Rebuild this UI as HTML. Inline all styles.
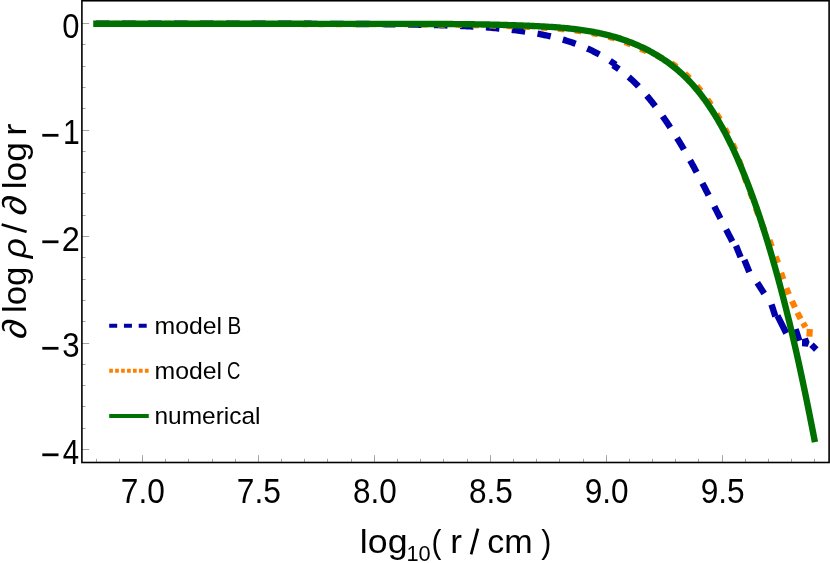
<!DOCTYPE html>
<html><head><meta charset="utf-8"><title>plot</title>
<style>
html,body{margin:0;padding:0;background:#fff;}
body{width:830px;height:563px;overflow:hidden;font-family:"Liberation Sans",sans-serif;}
svg{display:block;}
text{font-family:"Liberation Sans",sans-serif;fill:#000;}
</style></head><body>
<svg width="830" height="563" viewBox="0 0 830 563">
<rect width="830" height="563" fill="#fff"/>
<g stroke="#a4a4a4" stroke-width="1" fill="none">
<line x1="81.90" x2="89.20" y1="23.50" y2="23.50"/><line x1="81.90" x2="85.60" y1="44.50" y2="44.50"/><line x1="81.90" x2="85.60" y1="66.50" y2="66.50"/><line x1="81.90" x2="85.60" y1="87.50" y2="87.50"/><line x1="81.90" x2="85.60" y1="108.50" y2="108.50"/><line x1="81.90" x2="89.20" y1="130.50" y2="130.50"/><line x1="81.90" x2="85.60" y1="151.50" y2="151.50"/><line x1="81.90" x2="85.60" y1="172.50" y2="172.50"/><line x1="81.90" x2="85.60" y1="193.50" y2="193.50"/><line x1="81.90" x2="85.60" y1="215.50" y2="215.50"/><line x1="81.90" x2="89.20" y1="236.50" y2="236.50"/><line x1="81.90" x2="85.60" y1="257.50" y2="257.50"/><line x1="81.90" x2="85.60" y1="279.50" y2="279.50"/><line x1="81.90" x2="85.60" y1="300.50" y2="300.50"/><line x1="81.90" x2="85.60" y1="321.50" y2="321.50"/><line x1="81.90" x2="89.20" y1="343.50" y2="343.50"/><line x1="81.90" x2="85.60" y1="364.50" y2="364.50"/><line x1="81.90" x2="85.60" y1="385.50" y2="385.50"/><line x1="81.90" x2="85.60" y1="406.50" y2="406.50"/><line x1="81.90" x2="85.60" y1="428.50" y2="428.50"/><line x1="81.90" x2="89.20" y1="449.50" y2="449.50"/><line x1="96.50" x2="96.50" y1="462.50" y2="458.80"/><line x1="119.50" x2="119.50" y1="462.50" y2="458.80"/><line x1="142.50" x2="142.50" y1="462.50" y2="455.20"/><line x1="165.50" x2="165.50" y1="462.50" y2="458.80"/><line x1="188.50" x2="188.50" y1="462.50" y2="458.80"/><line x1="212.50" x2="212.50" y1="462.50" y2="458.80"/><line x1="235.50" x2="235.50" y1="462.50" y2="458.80"/><line x1="258.50" x2="258.50" y1="462.50" y2="455.20"/><line x1="281.50" x2="281.50" y1="462.50" y2="458.80"/><line x1="304.50" x2="304.50" y1="462.50" y2="458.80"/><line x1="327.50" x2="327.50" y1="462.50" y2="458.80"/><line x1="351.50" x2="351.50" y1="462.50" y2="458.80"/><line x1="374.50" x2="374.50" y1="462.50" y2="455.20"/><line x1="397.50" x2="397.50" y1="462.50" y2="458.80"/><line x1="420.50" x2="420.50" y1="462.50" y2="458.80"/><line x1="443.50" x2="443.50" y1="462.50" y2="458.80"/><line x1="467.50" x2="467.50" y1="462.50" y2="458.80"/><line x1="490.50" x2="490.50" y1="462.50" y2="455.20"/><line x1="513.50" x2="513.50" y1="462.50" y2="458.80"/><line x1="536.50" x2="536.50" y1="462.50" y2="458.80"/><line x1="559.50" x2="559.50" y1="462.50" y2="458.80"/><line x1="583.50" x2="583.50" y1="462.50" y2="458.80"/><line x1="606.50" x2="606.50" y1="462.50" y2="455.20"/><line x1="629.50" x2="629.50" y1="462.50" y2="458.80"/><line x1="652.50" x2="652.50" y1="462.50" y2="458.80"/><line x1="675.50" x2="675.50" y1="462.50" y2="458.80"/><line x1="698.50" x2="698.50" y1="462.50" y2="458.80"/><line x1="722.50" x2="722.50" y1="462.50" y2="455.20"/><line x1="745.50" x2="745.50" y1="462.50" y2="458.80"/><line x1="768.50" x2="768.50" y1="462.50" y2="458.80"/><line x1="791.50" x2="791.50" y1="462.50" y2="458.80"/><line x1="814.50" x2="814.50" y1="462.50" y2="458.80"/>
</g>
<g fill="none" stroke-linejoin="round">
<path d="M93.22,23.77 L94.99,23.77 L96.76,23.78 L98.53,23.78 L100.30,23.78 L102.07,23.79 L103.84,23.79 L105.61,23.79 L107.38,23.79 L109.14,23.80 L110.91,23.80 L112.68,23.80 L114.45,23.80 L116.22,23.80 L117.99,23.81 L119.76,23.81 L121.53,23.81 L123.30,23.81 L125.07,23.81 L126.84,23.81 L128.61,23.81 L130.38,23.82 L132.15,23.82 L133.92,23.82 L135.69,23.82 L137.47,23.82 L139.24,23.82 L141.01,23.82 L142.78,23.82 L144.55,23.82 L146.32,23.82 L148.09,23.82 L149.86,23.82 L151.63,23.82 L153.40,23.82 L155.17,23.82 L156.94,23.82 L158.72,23.82 L160.49,23.82 L162.26,23.82 L164.03,23.82 L165.80,23.82 L167.57,23.82 L169.34,23.82 L171.11,23.82 L172.89,23.82 L174.66,23.81 L176.43,23.81 L178.20,23.81 L179.97,23.81 L181.74,23.81 L183.51,23.81 L185.29,23.81 L187.06,23.81 L188.83,23.81 L190.60,23.81 L192.37,23.81 L194.14,23.80 L195.92,23.80 L197.69,23.80 L199.46,23.80 L201.23,23.80 L203.00,23.80 L204.77,23.80 L206.55,23.80 L208.32,23.80 L210.09,23.79 L211.86,23.79 L213.63,23.79 L215.41,23.79 L217.18,23.79 L218.95,23.79 L220.72,23.79 L222.49,23.79 L224.26,23.79 L226.04,23.78 L227.81,23.78 L229.58,23.78 L231.35,23.78 L233.12,23.78 L234.90,23.78 L236.67,23.78 L238.44,23.78 L240.21,23.78 L241.98,23.78 L243.76,23.78 L245.53,23.78 L247.30,23.78 L249.07,23.78 L250.84,23.78 L252.61,23.78 L254.39,23.78 L256.16,23.78 L257.93,23.78 L259.70,23.78 L261.47,23.78 L263.24,23.78 L265.02,23.78 L266.79,23.78 L268.56,23.78 L270.33,23.78 L272.10,23.78 L273.87,23.78 L275.65,23.78 L277.42,23.78 L279.19,23.78 L280.96,23.78 L282.73,23.79 L284.50,23.79 L286.27,23.79 L288.04,23.79 L289.82,23.79 L291.59,23.79 L293.36,23.80 L295.13,23.80 L296.90,23.80 L298.67,23.80 L300.44,23.81 L302.21,23.81 L303.98,23.81 L305.75,23.81 L307.53,23.82 L309.30,23.82 L311.07,23.82 L312.84,23.83 L314.61,23.83 L316.38,23.84 L318.15,23.84 L319.92,23.84 L321.69,23.85 L323.46,23.85 L325.23,23.86 L327.00,23.86 L328.77,23.87 L330.54,23.87 L332.31,23.88 L334.08,23.88 L335.85,23.89 L337.62,23.90 L339.39,23.90 L341.16,23.91 L342.93,23.91 L344.70,23.92 L346.47,23.93 L348.24,23.94 L350.01,23.94 L351.77,23.95 L353.54,23.96 L355.31,23.97 L357.08,23.98 L358.85,23.99 L360.62,23.99 L362.39,24.01 L364.16,24.02 L365.93,24.03 L367.70,24.04 L369.47,24.05 L371.24,24.06 L373.00,24.08 L374.77,24.09 L376.54,24.10 L378.31,24.12 L380.08,24.14 L381.85,24.15 L383.62,24.17 L385.39,24.19 L387.16,24.20 L388.93,24.22 L390.70,24.24 L392.47,24.27 L394.24,24.29 L396.01,24.31 L397.78,24.33 L399.55,24.36 L401.32,24.38 L403.09,24.41 L404.86,24.44 L406.63,24.46 L408.40,24.49 L410.17,24.52 L411.95,24.56 L413.72,24.59 L415.49,24.62 L417.26,24.66 L419.03,24.69 L420.80,24.73 L422.58,24.77 L424.35,24.81 L426.12,24.85 L427.89,24.89 L429.67,24.93 L431.44,24.98 L433.21,25.02 L434.99,25.07 L436.76,25.12 L438.54,25.17 L440.31,25.22 L442.09,25.27 L443.86,25.33 L445.64,25.38 L447.41,25.44 L449.19,25.50 L450.96,25.56 L452.74,25.63 L454.51,25.69 L456.29,25.76 L458.06,25.83 L459.84,25.91 L461.62,25.98 L463.39,26.06 L465.17,26.14 L466.94,26.23 L468.72,26.32 L470.49,26.41 L472.26,26.51 L474.04,26.61 L475.81,26.71 L477.58,26.82 L479.36,26.93 L481.13,27.04 L482.90,27.16 L484.67,27.29 L486.44,27.41 L488.21,27.55 L489.98,27.68 L491.75,27.83 L493.52,27.97 L495.28,28.13 L497.05,28.28 L498.82,28.45 L500.58,28.61 L502.35,28.79 L504.11,28.97 L505.87,29.15 L507.63,29.34 L509.39,29.54 L511.15,29.74 L512.91,29.95 L514.67,30.17 L516.42,30.39 L518.18,30.62 L519.93,30.86 L521.69,31.10 L523.44,31.35 L525.19,31.61 L526.94,31.87 L528.68,32.14 L530.43,32.43 L532.17,32.72 L533.91,33.01 L535.65,33.32 L537.38,33.64 L539.12,33.97 L540.85,34.30 L542.58,34.65 L544.30,35.01 L546.03,35.37 L547.75,35.75 L549.46,36.14 L551.17,36.54 L552.88,36.95 L554.59,37.38 L556.29,37.81 L557.99,38.26 L559.69,38.72 L561.38,39.19 L563.07,39.68 L564.75,40.18 L566.43,40.69 L568.10,41.22 L569.77,41.76 L571.44,42.32 L573.10,42.89 L574.75,43.48 L576.40,44.08 L578.05,44.69 L579.69,45.32 L581.32,45.97 L582.95,46.64 L584.57,47.32 L586.19,48.01 L587.80,48.73 L589.41,49.46 L591.01,50.21 L592.60,50.97 L594.19,51.76 L595.77,52.56 L597.34,53.38 L598.91,54.22 L600.47,55.08 L602.03,55.95 L603.57,56.85 L605.11,57.77 L606.64,58.70 L608.17,59.66 L609.69,60.64 L611.20,61.64 L612.70,62.65 L614.19,63.70 L615.68,64.76" stroke="#0000aa" stroke-width="6.4" stroke-dasharray="13.5 12.5" stroke-dashoffset="-2.8"/>
<path d="M613.03,65.29 L613.95,65.87 L614.87,66.46 L615.78,67.05 L616.68,67.66 L617.58,68.27 L618.46,68.89 L619.35,69.51 L620.22,70.15 L621.09,70.79 L621.95,71.44 L622.80,72.10 L623.65,72.76 L624.49,73.43 L625.33,74.11 L626.16,74.80 L626.98,75.49 L627.80,76.19 L628.61,76.89 L629.42,77.60 L630.22,78.32 L631.02,79.04 L631.81,79.77 L632.59,80.51 L633.37,81.25 L634.14,81.99 L634.91,82.74 L635.67,83.50 L636.43,84.26 L637.19,85.03 L637.94,85.80 L638.68,86.58 L639.42,87.36 L640.16,88.15 L640.89,88.94 L641.61,89.74 L642.34,90.54 L643.05,91.34 L643.77,92.15 L644.48,92.96 L645.19,93.77 L645.89,94.59 L646.59,95.41 L647.28,96.24 L647.98,97.07 L648.66,97.90 L649.35,98.73 L650.03,99.57 L650.71,100.41 L651.39,101.26 L652.06,102.10 L652.73,102.95 L653.40,103.80 L654.06,104.65 L654.72,105.51 L655.38,106.36 L656.04,107.22 L656.69,108.09 L657.34,108.95 L657.99,109.82 L658.63,110.69 L659.27,111.56 L659.91,112.43 L660.55,113.31 L661.18,114.19 L661.81,115.07 L662.44,115.95 L663.06,116.83 L663.69,117.72 L664.31,118.60 L664.92,119.49 L665.54,120.38 L666.15,121.28 L666.76,122.17 L667.37,123.07 L667.98,123.97 L668.58,124.87 L669.18,125.77 L669.78,126.67 L670.37,127.58 L670.96,128.48 L671.56,129.39 L672.14,130.30 L672.73,131.21 L673.31,132.12 L673.90,133.04 L674.48,133.95 L675.05,134.87 L675.63,135.79 L676.20,136.70 L676.77,137.62 L677.34,138.54 L677.91,139.47 L678.47,140.39 L679.04,141.31 L679.60,142.24 L680.15,143.17 L680.71,144.09 L681.27,145.02 L681.82,145.95 L682.37,146.88 L682.92,147.81 L683.47,148.74 L684.01,149.68 L684.55,150.61 L685.10,151.55 L685.64,152.48 L686.18,153.42 L686.71,154.35 L687.25,155.29 L687.78,156.23 L688.31,157.17 L688.84,158.11 L689.37,159.05 L689.90,159.99 L690.43,160.94 L690.95,161.88 L691.47,162.82 L692.00,163.77 L692.52,164.71 L693.04,165.66 L693.55,166.61 L694.07,167.55 L694.59,168.50 L695.10,169.45 L695.61,170.40 L696.12,171.35 L696.63,172.30 L697.14,173.25 L697.65,174.20 L698.16,175.15 L698.67,176.11 L699.17,177.06 L699.68,178.01 L700.18,178.97 L700.68,179.92 L701.19,180.88 L701.69,181.83 L702.19,182.79 L702.69,183.74 L703.19,184.70 L703.68,185.66 L704.18,186.61 L704.68,187.57 L705.17,188.53 L705.67,189.49 L706.16,190.45 L706.66,191.41 L707.15,192.36 L707.65,193.32 L708.14,194.28 L708.63,195.24 L709.12,196.21 L709.62,197.17 L710.11,198.13 L710.60,199.09 L711.09,200.05 L711.58,201.01 L712.07,201.97 L712.56,202.93 L713.05,203.90 L713.54,204.86 L714.03,205.82 L714.52,206.78 L715.01,207.75 L715.50,208.71 L715.99,209.67 L716.48,210.63 L716.97,211.60 L717.46,212.56 L717.95,213.52 L718.44,214.49 L718.93,215.45 L719.42,216.41 L719.91,217.37 L720.40,218.34 L720.89,219.30 L721.38,220.26 L721.87,221.22 L722.36,222.19 L722.86,223.15 L723.35,224.11 L723.84,225.07 L724.34,226.04 L724.83,227.00 L725.33,227.96 L725.82,228.92 L726.32,229.88 L726.81,230.84 L727.31,231.80 L727.81,232.76 L728.31,233.73 L728.81,234.69 L729.31,235.64 L729.81,236.60 L730.31,237.56 L730.81,238.52 L731.32,239.48 L731.82,240.44 L732.33,241.40" stroke="#0000aa" stroke-width="6.4" stroke-dasharray="13.5 12.5" stroke-dashoffset="6.4"/>
<g stroke="#0000aa" stroke-width="6.4"><line x1="736.0" y1="245.7" x2="740.6" y2="257.1"/><line x1="744.4" y1="260.0" x2="749.3" y2="272.0"/><line x1="757.3" y1="282.8" x2="764.2" y2="293.5"/><line x1="771.5" y1="304.6" x2="775.4" y2="316.4"/><line x1="777.4" y1="315.6" x2="786.3" y2="333.2"/><line x1="795.6" y1="329.1" x2="799.3" y2="340.8"/><line x1="811.5" y1="344.8" x2="816.3" y2="349.6"/><polygon points="802,339.2 807.8,337.6 809.6,341.9 807.8,346.7 802,346.2" fill="#0000aa" stroke="none"/></g>
<path d="M93.24,23.82 L94.90,23.82 L96.56,23.82 L98.22,23.82 L99.88,23.82 L101.54,23.82 L103.20,23.82 L104.86,23.82 L106.52,23.82 L108.19,23.83 L109.85,23.83 L111.51,23.83 L113.17,23.83 L114.83,23.83 L116.49,23.83 L118.15,23.83 L119.81,23.83 L121.47,23.83 L123.14,23.83 L124.80,23.83 L126.46,23.84 L128.12,23.84 L129.78,23.84 L131.45,23.84 L133.11,23.84 L134.77,23.84 L136.43,23.84 L138.09,23.84 L139.76,23.84 L141.42,23.84 L143.08,23.85 L144.74,23.85 L146.40,23.85 L148.07,23.85 L149.73,23.85 L151.39,23.85 L153.05,23.85 L154.72,23.85 L156.38,23.86 L158.04,23.86 L159.71,23.86 L161.37,23.86 L163.03,23.86 L164.69,23.86 L166.36,23.86 L168.02,23.87 L169.68,23.87 L171.35,23.87 L173.01,23.87 L174.67,23.87 L176.34,23.87 L178.00,23.87 L179.66,23.88 L181.33,23.88 L182.99,23.88 L184.65,23.88 L186.32,23.88 L187.98,23.88 L189.64,23.88 L191.31,23.89 L192.97,23.89 L194.63,23.89 L196.30,23.89 L197.96,23.89 L199.63,23.89 L201.29,23.90 L202.95,23.90 L204.62,23.90 L206.28,23.90 L207.95,23.90 L209.61,23.90 L211.27,23.91 L212.94,23.91 L214.60,23.91 L216.27,23.91 L217.93,23.91 L219.59,23.92 L221.26,23.92 L222.92,23.92 L224.59,23.92 L226.25,23.92 L227.91,23.93 L229.58,23.93 L231.24,23.93 L232.91,23.93 L234.57,23.93 L236.23,23.94 L237.90,23.94 L239.56,23.94 L241.23,23.94 L242.89,23.94 L244.56,23.95 L246.22,23.95 L247.88,23.95 L249.55,23.95 L251.21,23.95 L252.88,23.96 L254.54,23.96 L256.21,23.96 L257.87,23.96 L259.53,23.96 L261.20,23.97 L262.86,23.97 L264.53,23.97 L266.19,23.97 L267.85,23.98 L269.52,23.98 L271.18,23.98 L272.85,23.98 L274.51,23.99 L276.18,23.99 L277.84,23.99 L279.50,23.99 L281.17,23.99 L282.83,24.00 L284.50,24.00 L286.16,24.00 L287.82,24.00 L289.49,24.01 L291.15,24.01 L292.82,24.01 L294.48,24.01 L296.14,24.02 L297.81,24.02 L299.47,24.02 L301.14,24.02 L302.80,24.03 L304.46,24.03 L306.13,24.03 L307.79,24.03 L309.45,24.04 L311.12,24.04 L312.78,24.04 L314.45,24.05 L316.11,24.05 L317.77,24.05 L319.44,24.05 L321.10,24.06 L322.76,24.06 L324.43,24.06 L326.09,24.06 L327.75,24.07 L329.42,24.07 L331.08,24.07 L332.74,24.07 L334.41,24.08 L336.07,24.08 L337.73,24.08 L339.40,24.09 L341.06,24.09 L342.72,24.09 L344.39,24.09 L346.05,24.10 L347.71,24.10 L349.37,24.10 L351.04,24.11 L352.70,24.11 L354.36,24.11 L356.02,24.12 L357.69,24.12 L359.35,24.12 L361.01,24.12 L362.67,24.13 L364.34,24.13 L366.00,24.13 L367.66,24.14 L369.32,24.14 L370.99,24.14 L372.65,24.15 L374.31,24.15 L375.97,24.15 L377.63,24.15 L379.29,24.16 L380.96,24.16 L382.62,24.16 L384.28,24.17 L385.94,24.17 L387.60,24.17 L389.26,24.18 L390.92,24.18 L392.59,24.18 L394.25,24.19 L395.91,24.19 L397.57,24.19 L399.23,24.20 L400.89,24.20 L402.55,24.22 L404.21,24.23 L405.87,24.24 L407.53,24.25 L409.19,24.26 L410.85,24.28 L412.51,24.29 L414.17,24.30 L415.84,24.31 L417.50,24.33 L419.16,24.34 L420.82,24.35 L422.48,24.37 L424.14,24.38 L425.80,24.40 L427.46,24.41 L429.12,24.43 L430.78,24.44 L432.44,24.46 L434.10,24.48 L435.76,24.49 L437.42,24.51 L439.08,24.53 L440.74,24.55 L442.40,24.57 L444.06,24.59 L445.72,24.61 L447.38,24.63 L449.04,24.65 L450.70,24.67 L452.36,24.69 L454.02,24.72 L455.68,24.74 L457.34,24.77 L459.00,24.79 L460.66,24.82 L462.32,24.85 L463.99,24.88 L465.65,24.91 L467.31,24.94 L468.97,24.97 L470.63,25.00 L472.29,25.03 L473.95,25.07 L475.62,25.10 L477.28,25.14 L478.94,25.18 L480.60,25.21 L482.27,25.25 L483.93,25.29 L485.59,25.33 L487.25,25.38 L488.92,25.42 L490.58,25.47 L492.24,25.51 L493.91,25.56 L495.57,25.61 L497.24,25.66 L498.90,25.71 L500.56,25.76 L502.23,25.82 L503.89,25.87 L505.56,25.93 L507.22,25.99 L508.89,26.05 L510.56,26.11 L512.22,26.17 L513.89,26.24 L515.55,26.30 L517.22,26.37 L518.89,26.44 L520.56,26.51 L522.22,26.58 L523.89,26.66 L525.56,26.73 L527.23,26.81 L528.90,26.89 L530.56,26.97 L532.23,27.05 L533.90,27.13 L535.57,27.22 L537.24,27.31 L538.91,27.40 L540.58,27.49 L542.25,27.59 L543.91,27.69 L545.58,27.79 L547.25,27.90 L548.91,28.01 L550.58,28.12 L552.25,28.25 L553.91,28.37 L555.57,28.50 L557.23,28.64 L558.89,28.78 L560.55,28.92 L562.21,29.08 L563.87,29.23 L565.52,29.40 L567.18,29.57 L568.83,29.75 L570.48,29.93 L572.13,30.12 L573.78,30.32 L575.43,30.52 L577.07,30.74 L578.71,30.96 L580.35,31.19 L581.99,31.42 L583.62,31.67 L585.26,31.93 L586.89,32.19 L588.52,32.47 L590.14,32.75 L591.77,33.04 L593.39,33.35 L595.00,33.66 L596.62,33.99 L598.23,34.32 L599.84,34.67 L601.45,35.03 L603.05,35.40 L604.65,35.79 L606.24,36.18 L607.84,36.59 L609.43,37.01 L611.01,37.44 L612.59,37.89 L614.17,38.34 L615.75,38.82 L617.32,39.30 L618.88,39.80 L620.44,40.33 L621.99,40.89 L623.53,41.46 L625.07,42.05 L626.60,42.65 L628.13,43.27 L629.65,43.89 L631.17,44.54 L632.68,45.19 L634.18,45.86 L635.68,46.54 L637.17,47.24 L638.65,47.95 L640.13,48.67 L641.63,49.35 L643.18,49.91 L644.73,50.49 L646.28,51.09 L647.81,51.70 L649.35,52.33 L650.88,52.98 L652.40,53.63 L653.93,54.29 L655.45,54.97 L656.97,55.67 L658.47,56.38 L659.98,57.10 L661.49,57.82 L663.00,58.56 L664.50,59.31 L665.99,60.08 L667.47,60.86 L668.94,61.68 L670.36,62.58 L671.76,63.49 L673.16,64.42 L674.55,65.37 L675.92,66.33 L677.29,67.31 L678.64,68.30 L679.99,69.32 L681.32,70.35 L682.58,71.45 L683.83,72.58 L685.07,73.72 L686.29,74.88 L687.50,76.05 L688.69,77.23 L689.88,78.42 L691.05,79.63 L692.21,80.85 L693.36,82.08 L694.50,83.32 L695.62,84.58 L696.73,85.84 L697.83,87.12 L698.92,88.40 L700.00,89.70 L701.07,91.01 L702.13,92.33 L703.16,93.66 L704.19,95.00 L705.20,96.35 L706.21,97.71 L707.20,99.08 L708.16,100.48 L709.11,101.87 L710.05,103.28 L710.98,104.69 L711.90,106.11 L712.81,107.54 L713.71,108.97 L714.60,110.41 L715.48,111.85 L716.35,113.30 L717.21,114.75 L718.07,116.21 L718.91,117.67 L719.74,119.14 L720.57,120.61 L721.38,122.08 L722.19,123.56 L723.00,125.04 L723.80,126.52 L724.59,128.00 L725.38,129.49 L726.15,130.98 L726.92,132.47 L727.68,133.96 L728.44,135.46 L729.18,136.96 L729.92,138.46 L730.65,139.97 L731.38,141.48 L732.10,142.99 L732.81,144.51 L733.51,146.02 L734.21,147.54 L734.90,149.06 L735.52,150.62 L736.11,152.18 L736.70,153.75 L737.28,155.32 L737.86,156.88 L738.43,158.45 L738.99,160.03 L739.55,161.60 L740.11,163.17 L740.65,164.75 L741.19,166.33 L741.72,167.91 L742.24,169.50 L742.76,171.08 L743.27,172.67 L743.78,174.25 L744.28,175.84 L744.78,177.43 L745.28,179.02 L745.80,180.60 L746.40,182.15 L747.00,183.70 L747.59,185.25 L748.18,186.80 L748.77,188.35 L749.36,189.90 L749.94,191.46 L750.51,193.02 L751.09,194.57 L751.66,196.13 L752.22,197.69 L752.79,199.25 L753.35,200.82 L753.90,202.38 L754.45,203.95 L755.00,205.51 L755.55,207.08 L756.09,208.65 L756.63,210.22 L757.17,211.79 L757.70,213.36 L758.24,214.94 L758.76,216.51 L759.29,218.09 L759.81,219.66 L760.43,221.21 L761.09,222.74 L761.76,224.27 L762.42,225.80 L763.08,227.33 L763.73,228.87 L764.39,230.41 L765.05,231.94 L765.83,233.44 L766.61,234.94 L767.39,236.44" stroke="#ff8000" stroke-width="6.2" stroke-dasharray="6.5 10.60" stroke-dashoffset="-3.07"/>
<g stroke="#ff8000" stroke-width="6.2"><line x1="769.40" y1="240.12" x2="771.80" y2="246.48"/><line x1="775.66" y1="256.50" x2="777.94" y2="262.90"/><line x1="781.10" y1="272.78" x2="783.30" y2="279.22"/><line x1="786.34" y1="288.04" x2="788.86" y2="294.36"/><line x1="791.99" y1="300.93" x2="795.01" y2="307.47"/><line x1="797.39" y1="312.69" x2="800.61" y2="318.91"/><line x1="803.11" y1="323.01" x2="805.49" y2="327.19"/><line x1="809.4" y1="336.6" x2="809.8" y2="329.0"/></g>
<path d="M93.24,23.82 L94.90,23.81 L96.56,23.81 L98.22,23.81 L99.88,23.81 L101.54,23.81 L103.20,23.81 L104.86,23.81 L106.52,23.81 L108.19,23.81 L109.85,23.81 L111.51,23.81 L113.17,23.81 L114.83,23.80 L116.49,23.80 L118.15,23.80 L119.81,23.80 L121.47,23.80 L123.14,23.80 L124.80,23.80 L126.46,23.80 L128.12,23.80 L129.78,23.80 L131.45,23.80 L133.11,23.80 L134.77,23.80 L136.43,23.80 L138.09,23.80 L139.76,23.80 L141.42,23.79 L143.08,23.79 L144.74,23.79 L146.40,23.79 L148.07,23.79 L149.73,23.79 L151.39,23.79 L153.05,23.79 L154.72,23.79 L156.38,23.79 L158.04,23.79 L159.71,23.79 L161.37,23.79 L163.03,23.79 L164.69,23.79 L166.36,23.79 L168.02,23.79 L169.68,23.79 L171.35,23.79 L173.01,23.79 L174.67,23.79 L176.34,23.79 L178.00,23.79 L179.66,23.79 L181.33,23.79 L182.99,23.79 L184.65,23.79 L186.32,23.79 L187.98,23.79 L189.64,23.79 L191.31,23.79 L192.97,23.79 L194.63,23.79 L196.30,23.79 L197.96,23.79 L199.63,23.79 L201.29,23.79 L202.95,23.79 L204.62,23.79 L206.28,23.79 L207.95,23.79 L209.61,23.79 L211.27,23.79 L212.94,23.79 L214.60,23.79 L216.27,23.79 L217.93,23.79 L219.59,23.79 L221.26,23.79 L222.92,23.79 L224.59,23.79 L226.25,23.79 L227.91,23.79 L229.58,23.79 L231.24,23.79 L232.91,23.79 L234.57,23.79 L236.23,23.79 L237.90,23.79 L239.56,23.79 L241.23,23.79 L242.89,23.80 L244.56,23.80 L246.22,23.80 L247.88,23.80 L249.55,23.80 L251.21,23.80 L252.88,23.80 L254.54,23.80 L256.21,23.80 L257.87,23.80 L259.53,23.80 L261.20,23.80 L262.86,23.80 L264.53,23.80 L266.19,23.80 L267.85,23.80 L269.52,23.80 L271.18,23.81 L272.85,23.81 L274.51,23.81 L276.18,23.81 L277.84,23.81 L279.50,23.81 L281.17,23.81 L282.83,23.81 L284.50,23.81 L286.16,23.81 L287.82,23.81 L289.49,23.81 L291.15,23.81 L292.82,23.82 L294.48,23.82 L296.14,23.82 L297.81,23.82 L299.47,23.82 L301.14,23.82 L302.80,23.82 L304.46,23.82 L306.13,23.82 L307.79,23.82 L309.46,23.82 L311.12,23.83 L312.78,23.83 L314.45,23.83 L316.11,23.83 L317.77,23.83 L319.44,23.83 L321.10,23.83 L322.76,23.83 L324.43,23.83 L326.09,23.84 L327.75,23.84 L329.42,23.84 L331.08,23.84 L332.74,23.84 L334.41,23.84 L336.07,23.84 L337.73,23.84 L339.40,23.84 L341.06,23.85 L342.72,23.85 L344.39,23.85 L346.05,23.85 L347.71,23.85 L349.37,23.85 L351.04,23.85 L352.70,23.86 L354.36,23.86 L356.02,23.86 L357.69,23.86 L359.35,23.86 L361.01,23.86 L362.67,23.86 L364.34,23.86 L366.00,23.87 L367.66,23.87 L369.32,23.87 L370.99,23.87 L372.65,23.87 L374.31,23.87 L375.97,23.87 L377.63,23.88 L379.29,23.88 L380.96,23.88 L382.62,23.88 L384.28,23.88 L385.94,23.88 L387.60,23.89 L389.26,23.89 L390.93,23.89 L392.59,23.89 L394.25,23.89 L395.91,23.89 L397.57,23.90 L399.23,23.90 L400.89,23.90 L402.55,23.90 L404.21,23.90 L405.87,23.90 L407.53,23.91 L409.19,23.91 L410.85,23.91 L412.52,23.91 L414.18,23.91 L415.84,23.92 L417.50,23.92 L419.16,23.92 L420.82,23.93 L422.48,23.93 L424.14,23.93 L425.80,23.94 L427.46,23.94 L429.12,23.95 L430.78,23.95 L432.44,23.96 L434.10,23.97 L435.76,23.97 L437.42,23.98 L439.08,23.99 L440.74,24.00 L442.40,24.01 L444.06,24.02 L445.72,24.03 L447.38,24.04 L449.04,24.05 L450.70,24.06 L452.36,24.07 L454.03,24.09 L455.69,24.10 L457.35,24.12 L459.01,24.13 L460.67,24.15 L462.33,24.16 L463.99,24.18 L465.66,24.20 L467.32,24.22 L468.98,24.24 L470.64,24.27 L472.30,24.29 L473.97,24.31 L475.63,24.34 L477.29,24.36 L478.95,24.39 L480.62,24.42 L482.28,24.45 L483.94,24.48 L485.61,24.51 L487.27,24.54 L488.93,24.57 L490.60,24.61 L492.26,24.65 L493.93,24.68 L495.59,24.72 L497.26,24.76 L498.92,24.80 L500.59,24.85 L502.25,24.89 L503.92,24.93 L505.59,24.98 L507.25,25.03 L508.92,25.08 L510.59,25.13 L512.25,25.18 L513.92,25.24 L515.59,25.29 L517.26,25.35 L518.92,25.41 L520.59,25.47 L522.26,25.53 L523.93,25.60 L525.60,25.66 L527.27,25.73 L528.94,25.80 L530.61,25.87 L532.28,25.94 L533.95,26.01 L535.62,26.09 L537.30,26.17 L538.97,26.25 L540.64,26.34 L542.31,26.43 L543.98,26.52 L545.65,26.61 L547.32,26.71 L548.99,26.82 L550.66,26.92 L552.33,27.04 L554.00,27.15 L555.66,27.28 L557.33,27.40 L559.00,27.54 L560.66,27.67 L562.32,27.82 L563.99,27.97 L565.65,28.13 L567.31,28.29 L568.97,28.46 L570.62,28.64 L572.28,28.82 L573.93,29.01 L575.59,29.21 L577.24,29.42 L578.89,29.64 L580.53,29.86 L582.18,30.10 L583.82,30.34 L585.47,30.59 L587.11,30.85 L588.74,31.12 L590.38,31.40 L592.01,31.69 L593.64,31.99 L595.27,32.30 L596.89,32.62 L598.52,32.96 L600.14,33.30 L601.75,33.65 L603.37,34.02 L604.98,34.40 L606.59,34.79 L608.19,35.19 L609.79,35.61 L611.39,36.04 L612.99,36.48 L614.58,36.93 L616.17,37.40 L617.76,37.88 L619.34,38.37 L620.92,38.88 L622.49,39.41 L624.06,39.94 L625.63,40.49 L627.19,41.06 L628.74,41.64 L630.30,42.23 L631.84,42.84 L633.38,43.47 L634.92,44.10 L636.45,44.75 L637.97,45.42 L639.49,46.10 L641.00,46.79 L642.51,47.50 L644.01,48.22 L645.50,48.96 L646.98,49.71 L648.46,50.47 L649.93,51.25 L651.39,52.05 L652.84,52.85 L654.29,53.67 L655.72,54.51 L657.15,55.36 L658.57,56.22 L659.98,57.10 L661.38,58.00 L662.77,58.90 L664.15,59.82 L665.52,60.76 L666.88,61.71 L668.23,62.67 L669.57,63.65 L670.89,64.64 L672.21,65.65 L673.52,66.67 L674.81,67.70 L676.09,68.75 L677.36,69.81 L678.62,70.89 L679.87,71.98 L681.10,73.09 L682.32,74.21 L683.53,75.34 L684.72,76.49 L685.91,77.65 L687.08,78.82 L688.24,80.01 L689.39,81.21 L690.52,82.42 L691.65,83.64 L692.76,84.87 L693.86,86.12 L694.95,87.37 L696.03,88.64 L697.10,89.92 L698.16,91.21 L699.20,92.50 L700.24,93.81 L701.26,95.13 L702.28,96.45 L703.28,97.79 L704.27,99.13 L705.26,100.48 L706.23,101.84 L707.20,103.21 L708.15,104.59 L709.09,105.97 L710.03,107.36 L710.95,108.76 L711.87,110.16 L712.77,111.57 L713.67,112.99 L714.56,114.41 L715.44,115.84 L716.31,117.27 L717.17,118.71 L718.02,120.15 L718.87,121.60 L719.70,123.05 L720.53,124.50 L721.35,125.96 L722.16,127.42 L722.96,128.89 L723.76,130.36 L724.55,131.83 L725.33,133.31 L726.10,134.78 L726.87,136.27 L727.62,137.75 L728.38,139.24 L729.12,140.73 L729.86,142.23 L730.59,143.72 L731.31,145.22 L732.03,146.73 L732.74,148.23 L733.45,149.74 L734.15,151.25 L734.84,152.76 L735.53,154.28 L736.21,155.79 L736.89,157.31 L737.56,158.84 L738.22,160.36 L738.88,161.89 L739.54,163.42 L740.19,164.95 L740.84,166.48 L741.48,168.01 L742.11,169.55 L742.74,171.09 L743.37,172.63 L743.99,174.17 L744.61,175.71 L745.23,177.25 L745.84,178.80 L746.45,180.35 L747.05,181.90 L747.65,183.44 L748.25,185.00 L748.84,186.55 L749.43,188.10 L750.01,189.66 L750.59,191.21 L751.17,192.77 L751.74,194.33 L752.31,195.89 L752.88,197.45 L753.44,199.02 L754.00,200.58 L754.56,202.15 L755.11,203.71 L755.66,205.28 L756.21,206.85 L756.76,208.42 L757.30,209.99 L757.83,211.56 L758.37,213.14 L758.90,214.71 L759.43,216.29 L759.95,217.86 L760.47,219.44 L760.99,221.02 L761.51,222.60 L762.02,224.18 L762.54,225.76 L763.04,227.34 L763.55,228.93 L764.05,230.51 L764.55,232.10 L765.05,233.68 L765.55,235.27 L766.04,236.86 L766.53,238.45 L767.02,240.03 L767.50,241.62 L767.99,243.21 L768.47,244.81 L768.95,246.40 L769.42,247.99 L769.90,249.58 L770.37,251.18 L770.84,252.77 L771.31,254.37 L771.78,255.96 L772.24,257.56 L772.70,259.16 L773.16,260.75 L773.62,262.35 L774.08,263.95 L774.53,265.55 L774.98,267.15 L775.43,268.75 L775.88,270.35 L776.33,271.96 L776.77,273.56 L777.21,275.16 L777.65,276.76 L778.09,278.37 L778.53,279.97 L778.97,281.58 L779.40,283.18 L779.83,284.79 L780.26,286.40 L780.69,288.00 L781.11,289.61 L781.54,291.22 L781.96,292.83 L782.38,294.44 L782.80,296.05 L783.21,297.66 L783.63,299.27 L784.04,300.88 L784.45,302.49 L784.86,304.10 L785.27,305.72 L785.68,307.33 L786.08,308.94 L786.49,310.56 L786.89,312.17 L787.29,313.78 L787.69,315.40 L788.09,317.01 L788.48,318.63 L788.88,320.25 L789.27,321.86 L789.66,323.48 L790.05,325.10 L790.44,326.72 L790.82,328.33 L791.21,329.95 L791.59,331.57 L791.97,333.19 L792.35,334.81 L792.73,336.43 L793.11,338.05 L793.49,339.67 L793.86,341.29 L794.24,342.92 L794.61,344.54 L794.98,346.16 L795.35,347.78 L795.72,349.40 L796.09,351.03 L796.45,352.65 L796.82,354.27 L797.18,355.90 L797.54,357.52 L797.90,359.15 L798.26,360.77 L798.62,362.40 L798.98,364.02 L799.33,365.65 L799.69,367.27 L800.04,368.90 L800.39,370.53 L800.74,372.15 L801.09,373.78 L801.44,375.40 L801.79,377.03 L802.14,378.66 L802.48,380.29 L802.83,381.91 L803.17,383.54 L803.52,385.17 L803.86,386.80 L804.20,388.43 L804.54,390.06 L804.88,391.68 L805.21,393.31 L805.55,394.94 L805.89,396.57 L806.22,398.20 L806.56,399.83 L806.89,401.46 L807.22,403.09 L807.55,404.72 L807.88,406.35 L808.21,407.98 L808.54,409.61 L808.87,411.24 L809.20,412.87 L809.52,414.50 L809.85,416.13 L810.17,417.76 L810.50,419.39 L810.82,421.02 L811.14,422.65 L811.46,424.28 L811.79,425.91 L812.11,427.54 L812.43,429.18 L812.75,430.81 L813.06,432.44 L813.38,434.07 L813.70,435.70 L814.02,437.33 L814.33,438.96 L814.65,440.59 L814.96,442.22" stroke="#007100" stroke-width="6.4"/>
</g>
<rect x="81.9" y="0.75" width="747.2" height="461.75" fill="none" stroke="#000" stroke-width="1.6"/>
<g opacity="0.999">
<text x="120.87" y="502.50" font-size="34.3" textLength="44.06" lengthAdjust="spacingAndGlyphs">7.0</text>
<text x="236.80" y="502.50" font-size="34.3" textLength="44.16" lengthAdjust="spacingAndGlyphs">7.5</text>
<text x="352.98" y="502.50" font-size="34.3" textLength="43.80" lengthAdjust="spacingAndGlyphs">8.0</text>
<text x="468.90" y="502.50" font-size="34.3" textLength="43.90" lengthAdjust="spacingAndGlyphs">8.5</text>
<text x="584.72" y="502.50" font-size="34.3" textLength="43.91" lengthAdjust="spacingAndGlyphs">9.0</text>
<text x="700.64" y="502.50" font-size="34.3" textLength="44.01" lengthAdjust="spacingAndGlyphs">9.5</text>
<text x="62.24" y="37.50" font-size="34.3" textLength="17.22" lengthAdjust="spacingAndGlyphs">0</text>
<text x="62.95" y="144.00" font-size="34.3" textLength="16.77" lengthAdjust="spacingAndGlyphs">1</text>
<line x1="42.3" x2="58.5" y1="135.30" y2="135.30" stroke="#000" stroke-width="2.8"/>
<text x="61.82" y="250.50" font-size="34.3" textLength="18.07" lengthAdjust="spacingAndGlyphs">2</text>
<line x1="42.3" x2="58.5" y1="241.80" y2="241.80" stroke="#000" stroke-width="2.8"/>
<text x="62.26" y="357.00" font-size="34.3" textLength="17.36" lengthAdjust="spacingAndGlyphs">3</text>
<line x1="42.3" x2="58.5" y1="348.30" y2="348.30" stroke="#000" stroke-width="2.8"/>
<text x="62.78" y="463.50" font-size="34.3" textLength="16.33" lengthAdjust="spacingAndGlyphs">4</text>
<line x1="42.3" x2="58.5" y1="454.80" y2="454.80" stroke="#000" stroke-width="2.8"/>
<!-- legend -->
<line x1="109.2" x2="148.8" y1="325.7" y2="325.7" stroke="#0000aa" stroke-width="4" stroke-dasharray="8 6.75"/>
<line x1="109.2" x2="149" y1="370.7" y2="370.7" stroke="#ff8000" stroke-width="3.9" stroke-dasharray="3.7 2.25"/>
<line x1="109.2" x2="148.8" y1="415.9" y2="415.9" stroke="#007100" stroke-width="4"/>
<text x="154.50" y="334.00" font-size="24.5" textLength="67.61" lengthAdjust="spacingAndGlyphs">model</text>
<text x="227.55" y="334.00" font-size="24.5" textLength="13.79" lengthAdjust="spacingAndGlyphs">B</text>
<text x="154.50" y="379.00" font-size="24.5" textLength="67.61" lengthAdjust="spacingAndGlyphs">model</text>
<text x="227.11" y="379.00" font-size="24.5" textLength="13.34" lengthAdjust="spacingAndGlyphs">C</text>
<text x="154.53" y="424.00" font-size="24.5" textLength="105.96" lengthAdjust="spacingAndGlyphs">numerical</text>
<!-- x label -->
<text x="359.84" y="553.00" font-size="33.5" textLength="47.71" lengthAdjust="spacingAndGlyphs">log</text>
<text x="406.49" y="561.20" font-size="22.5" textLength="24.21" lengthAdjust="spacingAndGlyphs">10</text>
<text x="431.60" y="553.00" font-size="33.5" textLength="9.92" lengthAdjust="spacingAndGlyphs">(</text>
<text x="450.21" y="553.00" font-size="33.5" textLength="11.72" lengthAdjust="spacingAndGlyphs">r</text>
<line x1="471.1" y1="554.3" x2="478.0" y2="528.7" stroke="#000" stroke-width="2.7"/>
<text x="487.30" y="553.00" font-size="33.5" textLength="45.39" lengthAdjust="spacingAndGlyphs">cm</text>
<text x="541.37" y="553.00" font-size="33.5" textLength="10.05" lengthAdjust="spacingAndGlyphs">)</text>
<!-- y label -->
<g transform="translate(26,0) rotate(-90)">
<text x="-339.70" y="0.00" font-size="33.5" textLength="18.93" lengthAdjust="spacingAndGlyphs" transform="skewX(-8)">∂</text>
<text x="-313.10" y="0.00" font-size="33.5" textLength="46.49" lengthAdjust="spacingAndGlyphs">log</text>
<text x="-258.29" y="0.00" font-size="33.5" textLength="20.12" lengthAdjust="spacingAndGlyphs" font-style="italic">ρ</text>
<line x1="-231.8" y1="0.7" x2="-224.5" y2="-24.3" stroke="#000" stroke-width="2.7"/>
<text x="-216.21" y="0.00" font-size="33.5" textLength="19.16" lengthAdjust="spacingAndGlyphs" transform="skewX(-8)">∂</text>
<text x="-189.33" y="0.00" font-size="33.5" textLength="47.16" lengthAdjust="spacingAndGlyphs">log</text>
<text x="-135.79" y="0.00" font-size="33.5" textLength="12.25" lengthAdjust="spacingAndGlyphs">r</text>
</g>
</g>
</svg>
</body></html>
